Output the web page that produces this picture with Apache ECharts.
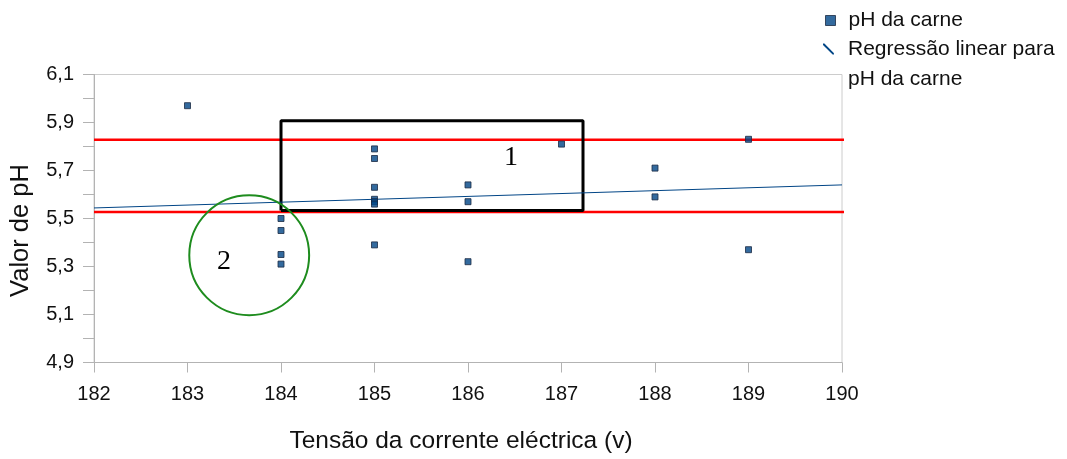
<!DOCTYPE html>
<html>
<head>
<meta charset="utf-8">
<script src="https://cdn.jsdelivr.net/npm/echarts@6/dist/echarts.min.js"></script>
<style>html,body{margin:0;padding:0;background:#fff}#c{width:1067px;height:459px}</style>
</head>
<body>
<div id="c"></div>
<script>
// ---- data ----
const voltage = [183, 184, 184, 184, 184, 185, 185, 185, 185, 185, 185, 185, 186, 186, 186, 187, 188, 188, 189, 189];
const phValues = [5.97, 5.50, 5.45, 5.35, 5.31, 5.79, 5.75, 5.63, 5.58, 5.57, 5.56, 5.39, 5.64, 5.57, 5.32, 5.81, 5.71, 5.59, 5.83, 5.37];
const regressionX = [182, 190];
const regressionY = [5.544, 5.640];
const refLevels = [5.828, 5.527];
const refEndX = [190.06, 190.14];
const boxX = [184.0, 187.23];
const boxY = [5.533, 5.907];
const circleCenter = [183.66, 5.347];
const circleRadiusX = 0.641;
const annotationTexts = ['1', '2'];
const annotationX = [186.46, 183.39];
const annotationY = [5.754, 5.32];
const xTicks = { min: 182, max: 190, step: 1 };
const yTicks = { min: 4.9, max: 6.1, step: 0.1 };

const seriesName = 'pH da carne';
const regName = 'Regressão linear para pH da carne';
const regLegendLines = ['Regressão linear para', 'pH da carne'];
const FONT = 'Liberation Sans, Arial, sans-serif';

const chart = echarts.init(document.getElementById('c'), null, { renderer: 'canvas' });

const scatterData = voltage.map((v, i) => [v, phValues[i]]);
const regData = regressionX.map((v, i) => [v, regressionY[i]]);
const refSeries = refLevels.map((lv, i) => ({
  type: 'line', name: 'ref' + i, data: [[xTicks.min, lv], [refEndX[i], lv]],
  symbol: 'none', clip: false, silent: true, z: 4,
  lineStyle: { color: '#ff0000', width: 2.5 }
}));
const boxData = [[boxX[0], boxY[0]], [boxX[1], boxY[0]], [boxX[1], boxY[1]], [boxX[0], boxY[1]], [boxX[0], boxY[0]]];

chart.setOption({
  animation: false,
  textStyle: { fontFamily: FONT },
  grid: { left: 93.5, top: 74.5, right: 225, bottom: 96.5, show: true, borderColor: '#cccccc', borderWidth: 1 },
  legend: [{
    orient: 'vertical', left: 825, top: 10, padding: 0,
    data: [{ name: seriesName, icon: 'rect', itemStyle: { color: '#004586', borderColor: '#1a2a44', borderWidth: 1 } }],
    itemWidth: 10, itemHeight: 10,
    textStyle: { fontSize: 21, color: '#111', fontFamily: FONT, padding: [0, 0, 0, 8] }
  }, {
    orient: 'vertical', left: 823, top: 4, padding: 0,
    data: [{ name: regName, icon: 'path://M0,0L1.5,0L12,10.5L12,12L10.5,12L0,1.5Z', itemStyle: { color: '#004586' } }],
    itemWidth: 11, itemHeight: 11,
    formatter: () => '\n' + regLegendLines.join('\n'),
    textStyle: { fontSize: 21, color: '#111', fontFamily: FONT, lineHeight: 30, padding: [0, 0, 0, 9] }
  }],
  xAxis: {
    type: 'value', min: xTicks.min, max: xTicks.max, interval: xTicks.step,
    axisLine: { lineStyle: { color: '#b3b3b3' } },
    axisTick: { show: true, length: 10, lineStyle: { color: '#b3b3b3' } },
    splitLine: { show: false },
    axisLabel: { fontSize: 20, color: '#111', margin: 22, fontFamily: FONT },
    name: 'Tensão da corrente eléctrica (v)', nameLocation: 'middle', nameGap: 66,
    nameTextStyle: { fontSize: 24.5, color: '#111', fontFamily: FONT, padding: [0, 14, 0, 0] }
  },
  yAxis: {
    type: 'value', min: yTicks.min, max: yTicks.max, interval: yTicks.step,
    axisLine: { show: true, lineStyle: { color: '#b3b3b3' } },
    axisTick: { show: true, length: 11, lineStyle: { color: '#b3b3b3' } },
    splitLine: { show: false },
    axisLabel: {
      fontSize: 20, color: '#111', margin: 20, fontFamily: FONT,
      formatter: v => (Math.round((v - yTicks.min) * 10) % 2 === 0 ? v.toFixed(1).replace('.', ',') : '')
    },
    name: 'Valor de pH', nameLocation: 'middle', nameGap: 60, nameRotate: 90,
    nameTextStyle: { fontSize: 25.5, color: '#111', fontFamily: FONT, padding: [0, 24, 0, 0] }
  },
  series: [
    {
      type: 'scatter', name: seriesName, data: scatterData, symbol: 'rect', symbolSize: 6, z: 6,
      itemStyle: { color: '#004586', borderColor: '#1a2a44', borderWidth: 1 }
    },
    {
      type: 'line', name: regName, data: regData, symbol: 'none', z: 5,
      itemStyle: { color: '#004586' }, lineStyle: { color: '#004586', width: 1 }
    },
    ...refSeries,
    {
      type: 'line', name: 'box', data: boxData, symbol: 'none', clip: false, silent: true, z: 4,
      lineStyle: { color: '#000', width: 3 }
    }
  ]
});

const c = chart.convertToPixel({ gridIndex: 0 }, circleCenter);
const edge = chart.convertToPixel({ gridIndex: 0 }, [circleCenter[0] + circleRadiusX, circleCenter[1]]);
const r = edge[0] - c[0];
const texts = annotationTexts.map((t, i) => {
  const p = chart.convertToPixel({ gridIndex: 0 }, [annotationX[i], annotationY[i]]);
  return {
    type: 'text', x: p[0], y: p[1], z: 10,
    style: { text: t, fill: '#000', font: '28px "Liberation Serif", "DejaVu Serif", serif', align: 'center', verticalAlign: 'middle' }
  };
});
chart.setOption({
  graphic: [
    { type: 'circle', shape: { cx: c[0], cy: c[1], r: r }, z: 10,
      style: { fill: 'none', stroke: '#1e8c1e', lineWidth: 2 } },
    ...texts
  ]
});
</script>
</body>
</html>
